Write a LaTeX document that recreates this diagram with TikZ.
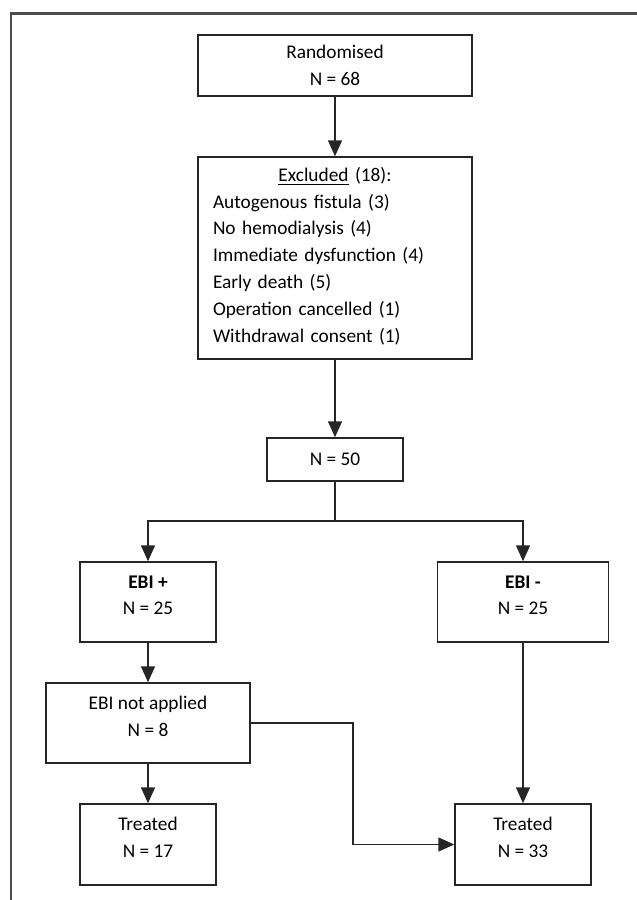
\documentclass[tikz,border=0pt]{standalone}
\usepackage{fontspec}
\setmainfont{Carlito}
\usepackage{tikz}
\usetikzlibrary{arrows.meta}

\begin{document}
\begin{tikzpicture}[>={Triangle[length=0.32cm,width=0.28cm]},
    box/.style={rectangle, draw=black!85, line width=0.8pt, align=center, inner sep=0pt,
        font={\fontsize{11}{15.25}\selectfont}},
    link/.style={draw=black!85, line width=0.8pt}]
        \useasboundingbox (0,0) rectangle (12.74,-18);
        \draw[black!70, line width=1.2pt] (0.22,-18) -- (0.22,-0.27) -- (12.74,-0.27);

        \node (rand) at (6.70,-1.31) [box, minimum width=5.48cm, minimum height=1.22cm] {Randomised\\N = 68};
        \node (excl) at (6.70,-5.16) [box, minimum width=5.48cm, minimum height=4.04cm, text width=4.88cm, align=left, text depth=3.35cm]
            {\hfill\underline{Excluded} (18):\hfill\null\\Autogenous fistula (3)\\No hemodialysis (4)\\Immediate dysfunction (4)\\Early death (5)\\Operation cancelled (1)\\Withdrawal consent (1)};
        \node (n50) at (6.70,-9.19) [box, minimum width=2.72cm, minimum height=0.86cm] {N = 50};
        \coordinate (fork) at (6.70,-10.42);
        \node (ebiplus) at (2.96,-12.04) [box, minimum width=2.72cm, minimum height=1.60cm, text depth=0.27cm] {\textbf{EBI +}\\N = 25};
        \node (ebiminus) at (10.46,-12.04) [box, minimum width=3.42cm, minimum height=1.60cm, text depth=0.27cm] {\textbf{EBI -}\\N = 25};
        \node (notapp) at (2.96,-14.46) [box, minimum width=4.08cm, minimum height=1.60cm, text depth=0.27cm] {EBI not applied\\N = 8};
        \coordinate (bend) at (7.06,-14.46);
        \node (treatA) at (2.96,-16.89) [box, minimum width=2.72cm, minimum height=1.62cm, text depth=0.3cm] {Treated\\N = 17};
        \node (treatB) at (10.46,-16.89) [box, minimum width=2.72cm, minimum height=1.62cm, text depth=0.3cm] {Treated\\N = 33};

        \draw[link, ->] (rand)--(excl);
        \draw[link, ->] (excl)--(n50);
        \draw[link, ->] (n50)--(fork)-|(ebiplus);
        \draw[link, ->] (fork)-|(ebiminus);
        \draw[link, ->] (ebiplus)--(notapp);
        \draw[link, ->] (notapp)--(treatA);
        \draw[link, ->] (ebiminus)--(treatB);
        \draw[link, ->] (notapp.east)--(bend)|-(treatB);

    \end{tikzpicture}
\end{document}
